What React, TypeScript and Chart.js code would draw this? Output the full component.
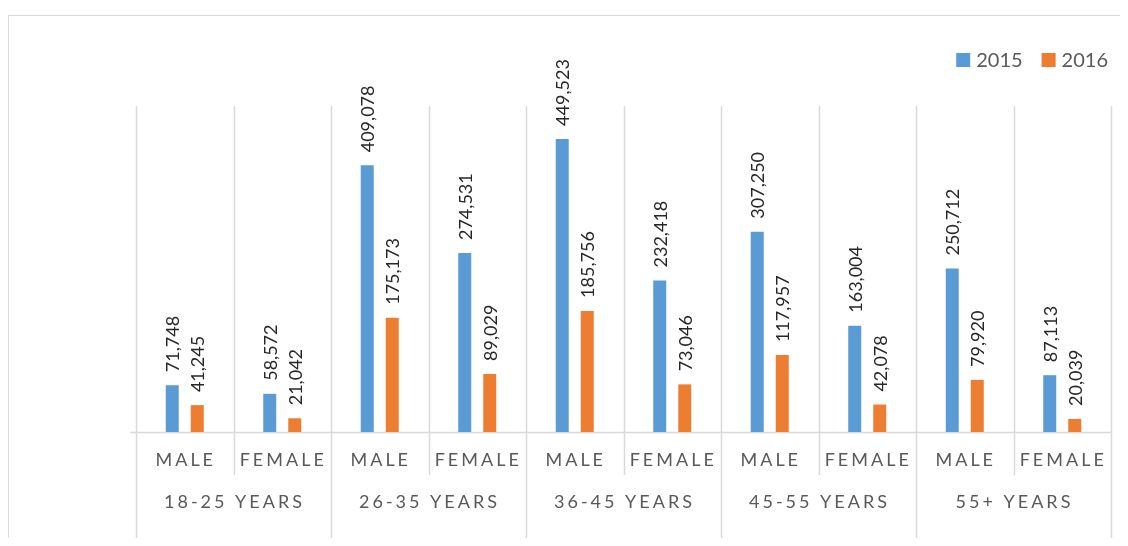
import React, { useEffect, useRef } from 'react';
import { Chart, registerables } from 'chart.js';

Chart.register(...registerables);

const ageGroups = ['18-25 YEARS', '26-35 YEARS', '36-45 YEARS', '45-55 YEARS', '55+ YEARS'];
const genders = ['MALE', 'FEMALE'];
const seriesNames = ['2015', '2016'];
const values2015 = [71748, 58572, 409078, 274531, 449523, 232418, 307250, 163004, 250712, 87113];
const values2016 = [41245, 21042, 175173, 89029, 185756, 73046, 117957, 42078, 79920, 20039];
const yMax = 500000;

const BLUE = '#5B9BD5';
const ORANGE = '#ED7D31';
const GRID = '#D9D9D9';
const FONT = 'Lato, "Open Sans", sans-serif';

const categories: string[] = [];
ageGroups.forEach(() => {
  genders.forEach((s) => {
    categories.push(s);
  });
});

const decorPlugin = {
  id: 'decor',
  beforeDatasetsDraw(chart: any) {
    const ctx = chart.ctx;
    const { left, right, top, bottom } = chart.chartArea;
    const xs = chart.scales.x;
    const n = categories.length;
    const H = chart.height;
    const W = chart.width;
    ctx.save();
    // outer border (left + top)
    ctx.strokeStyle = GRID;
    ctx.lineWidth = 1;
    ctx.beginPath();
    ctx.moveTo(0.5, 7);
    ctx.lineTo(0.5, H);
    ctx.moveTo(0, 7.5);
    ctx.lineTo(W, 7.5);
    ctx.stroke();

    const bounds: number[] = [];
    for (let i = 0; i <= n; i++) {
      let x;
      if (i === 0) x = left;
      else if (i === n) x = right;
      else x = (xs.getPixelForValue(i - 1) + xs.getPixelForValue(i)) / 2;
      bounds.push(Math.round(x) + 0.5);
    }
    ctx.strokeStyle = GRID;
    ctx.lineWidth = 1.5;
    ctx.beginPath();
    bounds.forEach((x, i) => {
      ctx.moveTo(x, top);
      const groupEdge = i % genders.length === 0;
      ctx.lineTo(x, groupEdge ? H : bottom + 43);
    });
    ctx.moveTo(left - 6, bottom + 0.5);
    ctx.lineTo(right, bottom + 0.5);
    ctx.stroke();

    // category labels
    ctx.fillStyle = '#595959';
    ctx.font = `18px ${FONT}`;
    ctx.textAlign = 'center';
    ctx.textBaseline = 'middle';
    (ctx as any).letterSpacing = '3px';
    for (let i = 0; i < n; i++) {
      const x = xs.getPixelForValue(i);
      ctx.fillText(categories[i], x + 1, bottom + 28);
    }
    ageGroups.forEach((g, gi) => {
      const x0 = bounds[gi * genders.length];
      const x1 = bounds[(gi + 1) * genders.length];
      ctx.fillText(g, (x0 + x1) / 2 + 0.5, bottom + 70);
    });
    (ctx as any).letterSpacing = '0px';

    // legend
    ctx.font = `20px ${FONT}`;
    ctx.textAlign = 'left';
    const colors = [BLUE, ORANGE];
    const legendRight = 1100;
    const box = 14;
    const gapBoxText = 6;
    const gapItems = 19;
    const widths = seriesNames.map((s) => ctx.measureText(s).width);
    let total = 0;
    widths.forEach((w, i) => {
      total += box + gapBoxText + w + (i < widths.length - 1 ? gapItems : 0);
    });
    let x = legendRight - total;
    const cy = 52;
    seriesNames.forEach((s, i) => {
      ctx.fillStyle = colors[i];
      ctx.fillRect(x, cy - box / 2, box, box);
      x += box + gapBoxText;
      ctx.fillStyle = '#595959';
      ctx.fillText(s, x, cy + 1);
      x += widths[i] + gapItems;
    });
    ctx.restore();
  },
  afterDatasetsDraw(chart: any) {
    const ctx = chart.ctx;
    ctx.save();
    ctx.font = `18px ${FONT}`;
    ctx.fillStyle = '#262626';
    ctx.textAlign = 'left';
    ctx.textBaseline = 'middle';
    chart.data.datasets.forEach((ds: any, di: number) => {
      const meta = chart.getDatasetMeta(di);
      meta.data.forEach((bar: any, i: number) => {
        const v = ds.data[i];
        ctx.save();
        ctx.translate(bar.x + 1, bar.y - 13);
        ctx.rotate(-Math.PI / 2);
        ctx.fillText(v.toLocaleString('en-US'), 0, 0);
        ctx.restore();
      });
    });
    ctx.restore();
  },
};

export default function App() {
  const ref = useRef<HTMLCanvasElement | null>(null);
  useEffect(() => {
    if (!ref.current) return;
    const chart = new Chart(ref.current, {
      type: 'bar',
      data: {
        labels: categories,
        datasets: [
          { label: seriesNames[0], data: values2015, backgroundColor: BLUE },
          { label: seriesNames[1], data: values2016, backgroundColor: ORANGE },
        ],
      },
      options: {
        responsive: false,
        animation: false,
        devicePixelRatio: 1,
        layout: { padding: { left: 128, right: 9, top: 98, bottom: 106 } },
        datasets: { bar: { categoryPercentage: 0.513, barPercentage: 0.52 } } as any,
        plugins: { legend: { display: false }, tooltip: { enabled: false } },
        scales: {
          x: { display: false, offset: true },
          y: { display: false, min: 0, max: yMax },
        },
      },
      plugins: [decorPlugin],
    });
    return () => chart.destroy();
  }, []);
  return (
    <div style={{ width: 1112, height: 530 }}>
      <canvas ref={ref} width={1112} height={530} style={{ display: 'block' }} />
    </div>
  );
}
